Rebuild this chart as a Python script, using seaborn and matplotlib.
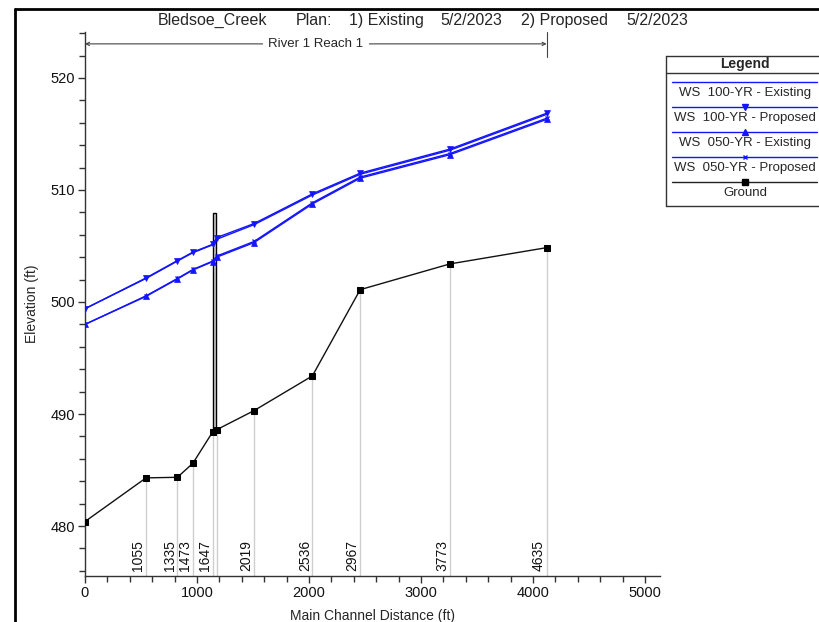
import matplotlib
matplotlib.use("Agg")
import matplotlib.pyplot as plt
from matplotlib.lines import Line2D
from matplotlib.patches import Rectangle
from matplotlib.ticker import MultipleLocator
import seaborn as sns
import pandas as pd

# Main channel distance (ft) of each cross section, downstream to upstream
distance = [0, 545, 825, 963, 1140, 1176, 1509, 2030, 2457, 3259, 4122]
station_labels = ["", "1055", "1335", "1473", "1647", "", "2019", "2536", "2967", "3773", "4635"]

ws100_existing = [499.4, 502.1, 503.65, 504.4, 505.1, 505.6, 506.9, 509.55, 511.4, 513.55, 516.75]
ws100_proposed = [499.4, 502.15, 503.7, 504.45, 505.15, 505.75, 507.0, 509.65, 511.5, 513.65, 516.85]
ws050_existing = [498.0, 500.5, 502.05, 502.85, 503.6, 504.0, 505.3, 508.75, 511.05, 513.15, 516.3]
ws050_proposed = [498.0, 500.55, 502.1, 502.9, 503.65, 504.1, 505.4, 508.85, 511.15, 513.25, 516.4]
ground = [480.4, 484.3, 484.35, 485.6, 488.4, 488.6, 490.3, 493.4, 501.1, 503.4, 504.85]

# Bridge opening: upstream / downstream faces and top of deck
bridge_start, bridge_end, bridge_top = 1146, 1170, 507.9

title_parts = ["Bledsoe_Creek", "Plan:", "1) Existing", "5/2/2023", "2) Proposed", "5/2/2023"]
title_x = [158, 296, 349, 440, 521, 626]
reach_name = "River 1 Reach 1"

series = [
    ("WS  100-YR - Existing", ws100_existing, None, 4),
    ("WS  100-YR - Proposed", ws100_proposed, "v", 4),
    ("WS  050-YR - Existing", ws050_existing, "^", 4),
    ("WS  050-YR - Proposed", ws050_proposed, "x", 3.5),
]
blue = "#1414ff"

sns.set_theme(style="white")
plt.rcParams["font.family"] = ["Liberation Sans", "DejaVu Sans"]

W, H = 820, 622
Y0, Y1 = 475.54, 524.1
fig = plt.figure(figsize=(W / 100, H / 100), dpi=100)
ax = fig.add_axes([85 / W, 1 - 576 / H, (660 - 85) / W, (576 - 32) / H])
ax.set_xlim(0, 5134)
ax.set_ylim(Y0, Y1)

# gray station lines from the ground down to the axis
for d, g, lab in zip(distance, ground, station_labels):
    if d > 0:
        ax.plot([d, d], [Y0, g], color="#cfcfcf", lw=1, zorder=1)
    if lab:
        ax.text(d - 5, 475.95, lab, rotation=90, ha="right", va="bottom", fontsize=10, color="#111111")

# bridge deck
ax.add_patch(Rectangle((bridge_start, 488.5), bridge_end - bridge_start, bridge_top - 488.5,
                       facecolor="#d4d4d4", edgecolor="black", lw=1, zorder=3))

df = pd.DataFrame({"distance": distance})
for name, vals, mk, ms in series:
    df[name] = vals
    sns.lineplot(data=df, x="distance", y=name, ax=ax, color=blue, lw=1, sort=False,
                 marker=mk, markersize=ms, markeredgecolor=blue, markeredgewidth=1 if mk == "x" else 0.5,
                 zorder=4)
df["Ground"] = ground
sns.lineplot(data=df, x="distance", y="Ground", ax=ax, color="#111111", lw=1, sort=False,
             marker="s", markersize=5, markeredgecolor="black", markerfacecolor="black", zorder=5)

# axes styling
for s in ["top", "right"]:
    ax.spines[s].set_visible(False)
for s in ["left", "bottom"]:
    ax.spines[s].set_color("#333333")
    ax.spines[s].set_linewidth(1)
ax.xaxis.set_major_locator(MultipleLocator(1000))
ax.xaxis.set_minor_locator(MultipleLocator(200))
ax.yaxis.set_major_locator(MultipleLocator(10))
ax.yaxis.set_minor_locator(MultipleLocator(2))
ax.tick_params(which="both", direction="out", color="#333333", width=1)
ax.tick_params(which="major", length=5, labelsize=10.5, pad=2, labelcolor="#111111")
ax.tick_params(which="minor", length=4)
ax.tick_params(axis="both", which="both", bottom=True, left=True)
ax.set_xlabel("Main Channel Distance (ft)", fontsize=10, va="center")
ax.set_ylabel("Elevation (ft)", fontsize=10, va="center")
ax.xaxis.set_label_coords(0.5, (576 - 616) / 544)
ax.yaxis.set_label_coords((32 - 85) / 575, 0.5)

# reach extent annotation
reach_end = distance[-1]
ax.annotate("", xy=(0, 523.04), xytext=(reach_end, 523.04),
            arrowprops=dict(arrowstyle="<->", color="#444444", lw=0.8, mutation_scale=6,
                            shrinkA=0, shrinkB=0), annotation_clip=False)
ax.plot([reach_end, reach_end], [521.9, Y1], color="#444444", lw=0.8, clip_on=False)
ax.text(reach_end / 2, 523.04, reach_name, ha="center", va="center", fontsize=9.5,
        bbox=dict(facecolor="white", edgecolor="none", pad=4))

# title
for t, x in zip(title_parts, title_x):
    fig.text(x / W, 1 - 25 / H, t, ha="left", va="baseline", fontsize=11.5)

# outer frame
fig.add_artist(Line2D([15 / W, 15 / W], [0, 1 - 9 / H], color="black", lw=2))
fig.add_artist(Line2D([15 / W, 1], [1 - 9 / H, 1 - 9 / H], color="black", lw=2))

# legend panel
lx0 = 666 / W
fig.add_artist(Line2D([lx0, 1], [1 - 56 / H] * 2, color="#333333", lw=1))
fig.add_artist(Line2D([lx0, 1], [1 - 206 / H] * 2, color="#333333", lw=1))
fig.add_artist(Line2D([lx0, lx0], [1 - 206 / H, 1 - 56 / H], color="#333333", lw=1))
fig.add_artist(Line2D([lx0, 1], [1 - 73 / H] * 2, color="#333333", lw=1))
cx = 745 / W
fig.text(cx, 1 - 64 / H, "Legend", ha="center", va="center", fontsize=10, fontweight="bold")
entries = [(n, blue, mk, ms) for n, _, mk, ms in series] + [("Ground", "#222222", "s", 5)]
for i, (name, col, mk, ms) in enumerate(entries):
    ly = 1 - (82 + 25 * i) / H
    ty = 1 - (93 + 25 * i) / H
    fig.add_artist(Line2D([672 / W, 817 / W], [ly, ly], color=col, lw=1))
    if mk:
        fig.add_artist(Line2D([cx], [ly], color=col, marker=mk, markersize=ms,
                              markerfacecolor="black" if mk == "s" else col,
                              markeredgecolor="black" if mk == "s" else col, lw=0))
    fig.text(cx, ty, name, ha="center", va="center", fontsize=9.5)

fig.savefig("out.png", dpi=100)
